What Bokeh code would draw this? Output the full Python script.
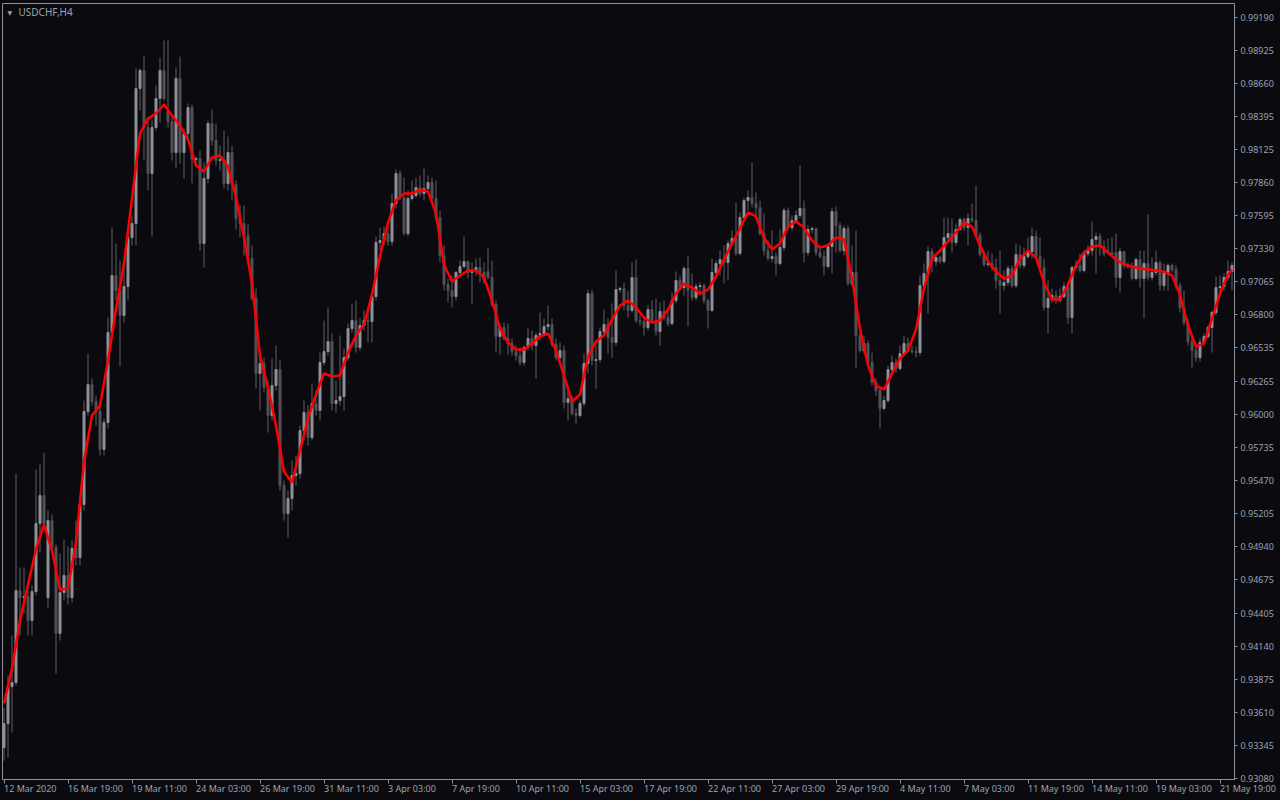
from bokeh.plotting import figure
from bokeh.models import (Range1d, FixedTicker, PrintfTickFormatter, Label,
                          ColumnDataSource, GlobalInlineStyleSheet)
from bokeh.embed import file_html
from bokeh.resources import INLINE

symbol = "USDCHF,H4"

open_ = [0.93326, 0.93518, 0.93815, 0.93848, 0.94586, 0.94530, 0.94538, 0.94345, 0.94578, 0.95124,
         0.95349, 0.94530, 0.95148, 0.94932, 0.94241, 0.94570, 0.94707, 0.94530, 0.94924, 0.94851,
         0.95277, 0.96024, 0.96240, 0.96104, 0.96024, 0.95719, 0.95935, 0.96658, 0.97116, 0.96995,
         0.96795, 0.97027, 0.97421, 0.97533, 0.98617, 0.98762, 0.98304, 0.97935, 0.98304, 0.98537,
         0.98762, 0.98441, 0.98352, 0.98103, 0.98698, 0.98103, 0.98256, 0.98465, 0.98047, 0.98055,
         0.97373, 0.97895, 0.98336, 0.98200, 0.98039, 0.98047, 0.97855, 0.98103, 0.97846, 0.97573,
         0.97533, 0.97437, 0.97252, 0.96931, 0.96329, 0.96409, 0.96216, 0.95992, 0.96232, 0.96361,
         0.95429, 0.95205, 0.95325, 0.95510, 0.95526, 0.95871, 0.96016, 0.95815, 0.96088, 0.96032,
         0.96417, 0.96505, 0.96586, 0.96088, 0.96112, 0.96144, 0.96457, 0.96690, 0.96754, 0.96538,
         0.96714, 0.96754, 0.96746, 0.96947, 0.97381, 0.97397, 0.97453, 0.97389, 0.97694, 0.97935,
         0.97742, 0.97453, 0.97734, 0.97758, 0.97822, 0.97774, 0.97814, 0.97863, 0.97734, 0.97581,
         0.97276, 0.97043, 0.96995, 0.96947, 0.97140, 0.97188, 0.97228, 0.97140, 0.97156, 0.97180,
         0.97140, 0.97148, 0.97100, 0.96883, 0.96626, 0.96698, 0.96610, 0.96570, 0.96505, 0.96473,
         0.96417, 0.96538, 0.96610, 0.96554, 0.96634, 0.96650, 0.96706, 0.96722, 0.96562, 0.96457,
         0.96513, 0.96096, 0.96128, 0.96008, 0.95992, 0.96088, 0.96409, 0.96971, 0.96433, 0.96441,
         0.96666, 0.96722, 0.96618, 0.96578, 0.97003, 0.97011, 0.96875, 0.96835, 0.97100, 0.96754,
         0.96746, 0.96698, 0.96843, 0.96754, 0.96666, 0.96827, 0.96778, 0.96730, 0.96915, 0.97076,
         0.97019, 0.97172, 0.96995, 0.96939, 0.97027, 0.97035, 0.96915, 0.96835, 0.97140, 0.97212,
         0.97244, 0.97220, 0.97373, 0.97413, 0.97292, 0.97581, 0.97718, 0.97742, 0.97694, 0.97662,
         0.97453, 0.97316, 0.97252, 0.97268, 0.97212, 0.97341, 0.97638, 0.97501, 0.97557, 0.97598,
         0.97654, 0.97300, 0.97485, 0.97493, 0.97300, 0.97268, 0.97188, 0.97349, 0.97630, 0.97517,
         0.97316, 0.97493, 0.97052, 0.97140, 0.96634, 0.96513, 0.96570, 0.96417, 0.96257, 0.96192,
         0.96048, 0.96112, 0.96361, 0.96417, 0.96369, 0.96489, 0.96570, 0.96513, 0.96505, 0.96497,
         0.97035, 0.97132, 0.97308, 0.97228, 0.97260, 0.97228, 0.97421, 0.97453, 0.97381, 0.97485,
         0.97565, 0.97501, 0.97573, 0.97557, 0.97437, 0.97284, 0.97204, 0.97212, 0.97180, 0.97076,
         0.97035, 0.97060, 0.97172, 0.97035, 0.97284, 0.97196, 0.97268, 0.97308, 0.97429, 0.97268,
         0.97180, 0.96859, 0.96931, 0.96955, 0.96915, 0.96947, 0.97027, 0.96778, 0.97180, 0.97196,
         0.97156, 0.97292, 0.97316, 0.97405, 0.97429, 0.97349, 0.97316, 0.97300, 0.97300, 0.97100,
         0.97308, 0.97196, 0.97180, 0.97092, 0.97244, 0.97092, 0.97212, 0.97100, 0.97140, 0.97220,
         0.97035, 0.97140, 0.97196, 0.97164, 0.97035, 0.96859, 0.96738, 0.96586, 0.96513, 0.96457,
         0.96578, 0.96626, 0.96698, 0.96819, 0.97019, 0.97027, 0.97100, 0.97148]

high = [0.93647, 0.93904, 0.94225, 0.95526, 0.94771, 0.94771, 0.94626, 0.94626, 0.95558, 0.95598,
        0.95694, 0.95229, 0.95197, 0.94956, 0.94883, 0.94996, 0.94940, 0.94988, 0.95148, 0.95349,
        0.96112, 0.96489, 0.96289, 0.96152, 0.96072, 0.95967, 0.96778, 0.97501, 0.97373, 0.97236,
        0.97180, 0.97461, 0.97598, 0.98778, 0.98778, 0.98882, 0.98360, 0.98360, 0.98641, 0.98866,
        0.99003, 0.99003, 0.98401, 0.98786, 0.98874, 0.98296, 0.98497, 0.98489, 0.98071, 0.98119,
        0.98023, 0.98360, 0.98449, 0.98336, 0.98160, 0.98280, 0.98232, 0.98160, 0.97879, 0.97678,
        0.97678, 0.97525, 0.97357, 0.97011, 0.96513, 0.96457, 0.96273, 0.96449, 0.96554, 0.96433,
        0.95470, 0.95389, 0.95630, 0.95670, 0.95911, 0.96112, 0.96072, 0.96249, 0.96192, 0.96497,
        0.96754, 0.96859, 0.96650, 0.96273, 0.96634, 0.96530, 0.96730, 0.96891, 0.96915, 0.96770,
        0.96835, 0.96859, 0.96971, 0.97429, 0.97501, 0.97509, 0.97517, 0.97774, 0.97967, 0.97959,
        0.97903, 0.97798, 0.97879, 0.97903, 0.97919, 0.97975, 0.97919, 0.97903, 0.97879, 0.97638,
        0.97357, 0.97092, 0.97116, 0.97150, 0.97236, 0.97429, 0.97236, 0.97220, 0.97252, 0.97260,
        0.97220, 0.97333, 0.97236, 0.96915, 0.96730, 0.96738, 0.96730, 0.96610, 0.96554, 0.96538,
        0.96554, 0.96690, 0.96674, 0.96658, 0.96819, 0.96770, 0.96875, 0.96770, 0.96610, 0.96578,
        0.96554, 0.96232, 0.96152, 0.96048, 0.96112, 0.96489, 0.97003, 0.97003, 0.96554, 0.96698,
        0.96843, 0.96770, 0.96891, 0.97156, 0.97027, 0.97060, 0.96995, 0.97220, 0.97244, 0.96795,
        0.96770, 0.96875, 0.96915, 0.96931, 0.96899, 0.96915, 0.96835, 0.96979, 0.97148, 0.97116,
        0.97188, 0.97276, 0.97132, 0.97052, 0.97060, 0.97052, 0.96931, 0.97252, 0.97236, 0.97316,
        0.97357, 0.97397, 0.97477, 0.97702, 0.97622, 0.97742, 0.97798, 0.98023, 0.97782, 0.97718,
        0.97614, 0.97397, 0.97477, 0.97300, 0.97485, 0.97662, 0.97662, 0.97598, 0.97638, 0.97999,
        0.97718, 0.97517, 0.97509, 0.97501, 0.97333, 0.97316, 0.97373, 0.97662, 0.97670, 0.97541,
        0.97517, 0.97517, 0.97357, 0.97477, 0.96674, 0.96634, 0.96594, 0.96497, 0.96289, 0.96224,
        0.96152, 0.96393, 0.96473, 0.96449, 0.96554, 0.96634, 0.96618, 0.96554, 0.96546, 0.97116,
        0.97212, 0.97349, 0.97333, 0.97292, 0.97276, 0.97581, 0.97581, 0.97573, 0.97533, 0.97581,
        0.97581, 0.97614, 0.97694, 0.97838, 0.97461, 0.97316, 0.97316, 0.97292, 0.97252, 0.97316,
        0.97156, 0.97196, 0.97196, 0.97373, 0.97357, 0.97341, 0.97421, 0.97501, 0.97477, 0.97421,
        0.97252, 0.97076, 0.97011, 0.96995, 0.97011, 0.97060, 0.97060, 0.97196, 0.97236, 0.97292,
        0.97316, 0.97357, 0.97549, 0.97461, 0.97453, 0.97397, 0.97413, 0.97421, 0.97453, 0.97341,
        0.97316, 0.97220, 0.97220, 0.97260, 0.97316, 0.97316, 0.97606, 0.97260, 0.97316, 0.97236,
        0.97212, 0.97212, 0.97212, 0.97196, 0.97060, 0.96995, 0.96770, 0.96634, 0.96554, 0.96610,
        0.96650, 0.96714, 0.96835, 0.97108, 0.97116, 0.97132, 0.97236, 0.97220]

low = [0.93221, 0.93245, 0.93446, 0.93823, 0.94225, 0.94402, 0.94225, 0.94225, 0.94546, 0.94891,
       0.95068, 0.94450, 0.94907, 0.93920, 0.94185, 0.94506, 0.94474, 0.94490, 0.94787, 0.94787,
       0.95229, 0.95992, 0.96072, 0.95911, 0.95670, 0.95670, 0.95887, 0.96634, 0.96915, 0.96385,
       0.96738, 0.96915, 0.97357, 0.97357, 0.98441, 0.98039, 0.97798, 0.97429, 0.98280, 0.98344,
       0.98521, 0.98304, 0.98039, 0.97975, 0.98015, 0.97895, 0.98200, 0.97855, 0.97999, 0.97316,
       0.97180, 0.97855, 0.98160, 0.97999, 0.97959, 0.97814, 0.97798, 0.97718, 0.97485, 0.97421,
       0.97276, 0.97220, 0.96915, 0.96208, 0.96032, 0.96176, 0.95855, 0.95951, 0.96192, 0.95389,
       0.95148, 0.95012, 0.95229, 0.95429, 0.95486, 0.95791, 0.95751, 0.95791, 0.95992, 0.95951,
       0.96393, 0.96473, 0.96032, 0.96016, 0.96072, 0.96032, 0.96433, 0.96658, 0.96497, 0.96513,
       0.96674, 0.96578, 0.96578, 0.96915, 0.97316, 0.97357, 0.97357, 0.97357, 0.97654, 0.97718,
       0.97437, 0.97429, 0.97718, 0.97742, 0.97750, 0.97718, 0.97782, 0.97702, 0.97557, 0.97220,
       0.96995, 0.96899, 0.96859, 0.96915, 0.97116, 0.97172, 0.97092, 0.96891, 0.97116, 0.97060,
       0.97052, 0.97084, 0.96867, 0.96497, 0.96481, 0.96594, 0.96481, 0.96473, 0.96433, 0.96393,
       0.96393, 0.96513, 0.96513, 0.96289, 0.96594, 0.96626, 0.96674, 0.96546, 0.96433, 0.96433,
       0.96048, 0.95951, 0.95992, 0.95927, 0.95975, 0.96064, 0.96329, 0.96393, 0.96208, 0.96417,
       0.96634, 0.96489, 0.96457, 0.96554, 0.96979, 0.96835, 0.96778, 0.96819, 0.96738, 0.96714,
       0.96634, 0.96674, 0.96738, 0.96634, 0.96554, 0.96754, 0.96706, 0.96714, 0.96891, 0.96995,
       0.96955, 0.96706, 0.96915, 0.96915, 0.96955, 0.96891, 0.96690, 0.96819, 0.97092, 0.97116,
       0.97052, 0.97076, 0.97349, 0.97276, 0.97276, 0.97557, 0.97638, 0.97662, 0.97598, 0.97437,
       0.97276, 0.97236, 0.97220, 0.97116, 0.97196, 0.97316, 0.97477, 0.97477, 0.97541, 0.97573,
       0.97220, 0.97276, 0.97453, 0.97276, 0.97252, 0.97116, 0.97172, 0.97132, 0.97300, 0.97300,
       0.97276, 0.97035, 0.97027, 0.96377, 0.96497, 0.96489, 0.96393, 0.96232, 0.96152, 0.95887,
       0.96032, 0.96096, 0.96337, 0.96337, 0.96353, 0.96473, 0.96497, 0.96489, 0.96457, 0.96473,
       0.97019, 0.96811, 0.97140, 0.97196, 0.97212, 0.97212, 0.97381, 0.97300, 0.97357, 0.97477,
       0.97477, 0.97357, 0.97541, 0.97413, 0.97268, 0.97188, 0.97188, 0.97156, 0.97011, 0.96811,
       0.96995, 0.97035, 0.97019, 0.97011, 0.97172, 0.97172, 0.97252, 0.97252, 0.97252, 0.97156,
       0.96835, 0.96650, 0.96899, 0.96891, 0.96899, 0.96931, 0.96730, 0.96650, 0.97156, 0.97140,
       0.97140, 0.97268, 0.97276, 0.97132, 0.97276, 0.97268, 0.97284, 0.97268, 0.97019, 0.96979,
       0.97172, 0.97172, 0.97076, 0.97076, 0.97019, 0.96770, 0.97076, 0.97076, 0.97116, 0.96995,
       0.96995, 0.96995, 0.97140, 0.97011, 0.96819, 0.96714, 0.96554, 0.96377, 0.96425, 0.96425,
       0.96554, 0.96610, 0.96497, 0.96795, 0.96955, 0.96995, 0.97076, 0.96995]

close = [0.93518, 0.93815, 0.93848, 0.94586, 0.94530, 0.94538, 0.94345, 0.94578, 0.95124, 0.95349,
         0.95124, 0.95148, 0.94932, 0.94241, 0.94570, 0.94707, 0.94530, 0.94924, 0.94851, 0.95277,
         0.96024, 0.96240, 0.96104, 0.96024, 0.95719, 0.95935, 0.96658, 0.97116, 0.96995, 0.96795,
         0.97027, 0.97421, 0.97533, 0.98617, 0.98762, 0.98304, 0.97935, 0.98304, 0.98537, 0.98762,
         0.98537, 0.98352, 0.98103, 0.98698, 0.98103, 0.98256, 0.98465, 0.98047, 0.98055, 0.97373,
         0.97895, 0.98336, 0.98200, 0.98039, 0.98047, 0.97855, 0.98103, 0.97846, 0.97573, 0.97533,
         0.97437, 0.97276, 0.96931, 0.96329, 0.96409, 0.96216, 0.95992, 0.96232, 0.96361, 0.95429,
         0.95205, 0.95325, 0.95510, 0.95526, 0.95871, 0.96016, 0.95815, 0.96088, 0.96032, 0.96417,
         0.96505, 0.96586, 0.96088, 0.96112, 0.96144, 0.96457, 0.96690, 0.96754, 0.96538, 0.96714,
         0.96754, 0.96746, 0.96947, 0.97381, 0.97397, 0.97453, 0.97389, 0.97694, 0.97935, 0.97742,
         0.97453, 0.97734, 0.97758, 0.97822, 0.97774, 0.97814, 0.97863, 0.97734, 0.97581, 0.97276,
         0.97043, 0.96995, 0.96947, 0.97140, 0.97188, 0.97228, 0.97140, 0.97156, 0.97180, 0.97140,
         0.97076, 0.97100, 0.96883, 0.96626, 0.96698, 0.96610, 0.96570, 0.96505, 0.96473, 0.96417,
         0.96538, 0.96610, 0.96554, 0.96634, 0.96650, 0.96706, 0.96722, 0.96562, 0.96457, 0.96513,
         0.96096, 0.96128, 0.96008, 0.95992, 0.96088, 0.96409, 0.96971, 0.96433, 0.96441, 0.96666,
         0.96722, 0.96618, 0.96578, 0.97003, 0.97011, 0.96875, 0.96835, 0.97100, 0.96754, 0.96746,
         0.96698, 0.96843, 0.96754, 0.96666, 0.96827, 0.96778, 0.96730, 0.96915, 0.97076, 0.97019,
         0.97172, 0.96995, 0.96939, 0.97027, 0.97035, 0.96915, 0.96835, 0.97140, 0.97212, 0.97244,
         0.97220, 0.97373, 0.97413, 0.97292, 0.97581, 0.97718, 0.97742, 0.97694, 0.97662, 0.97453,
         0.97316, 0.97252, 0.97268, 0.97212, 0.97341, 0.97638, 0.97501, 0.97557, 0.97598, 0.97654,
         0.97300, 0.97485, 0.97493, 0.97300, 0.97268, 0.97188, 0.97349, 0.97630, 0.97517, 0.97316,
         0.97493, 0.97052, 0.97140, 0.96634, 0.96513, 0.96570, 0.96417, 0.96257, 0.96192, 0.96048,
         0.96112, 0.96361, 0.96417, 0.96369, 0.96489, 0.96570, 0.96513, 0.96505, 0.96497, 0.97035,
         0.97132, 0.97308, 0.97228, 0.97260, 0.97228, 0.97421, 0.97453, 0.97381, 0.97485, 0.97565,
         0.97501, 0.97573, 0.97557, 0.97437, 0.97284, 0.97204, 0.97212, 0.97180, 0.97076, 0.97035,
         0.97060, 0.97172, 0.97035, 0.97284, 0.97196, 0.97268, 0.97308, 0.97429, 0.97268, 0.97180,
         0.96859, 0.96931, 0.96955, 0.96915, 0.96947, 0.97027, 0.96778, 0.97180, 0.97196, 0.97156,
         0.97292, 0.97316, 0.97405, 0.97429, 0.97349, 0.97292, 0.97300, 0.97284, 0.97100, 0.97308,
         0.97196, 0.97180, 0.97092, 0.97244, 0.97092, 0.97212, 0.97100, 0.97140, 0.97220, 0.97035,
         0.97140, 0.97196, 0.97164, 0.97035, 0.96859, 0.96738, 0.96586, 0.96513, 0.96457, 0.96578,
         0.96626, 0.96698, 0.96819, 0.97019, 0.97027, 0.97100, 0.97148, 0.97196]

# smoothed average (red line), read every second bar plus the last bar
ma_values = [0.93679, 0.93960, 0.94345, 0.94634, 0.94916, 0.95116, 0.94907, 0.94594, 0.94602, 0.94972,
             0.95622, 0.95992, 0.96072, 0.96433, 0.96843, 0.97212, 0.97734, 0.98256, 0.98376, 0.98417,
             0.98489, 0.98401, 0.98320, 0.98208, 0.97999, 0.97951, 0.98063, 0.98079, 0.97991, 0.97742,
             0.97421, 0.97052, 0.96473, 0.96216, 0.95911, 0.95542, 0.95454, 0.95710, 0.95967, 0.96160,
             0.96329, 0.96305, 0.96313, 0.96497, 0.96634, 0.96722, 0.96963, 0.97268, 0.97541, 0.97718,
             0.97774, 0.97774, 0.97806, 0.97790, 0.97614, 0.97204, 0.97068, 0.97116, 0.97156, 0.97156,
             0.97100, 0.96915, 0.96690, 0.96578, 0.96522, 0.96522, 0.96570, 0.96626, 0.96650, 0.96513,
             0.96313, 0.96104, 0.96160, 0.96465, 0.96586, 0.96634, 0.96762, 0.96875, 0.96915, 0.96859,
             0.96778, 0.96738, 0.96754, 0.96843, 0.96971, 0.97052, 0.97019, 0.96971, 0.97003, 0.97108,
             0.97244, 0.97373, 0.97493, 0.97622, 0.97590, 0.97421, 0.97325, 0.97373, 0.97509, 0.97549,
             0.97501, 0.97397, 0.97341, 0.97357, 0.97421, 0.97405, 0.97092, 0.96690, 0.96393, 0.96232,
             0.96200, 0.96329, 0.96449, 0.96513, 0.96682, 0.97011, 0.97252, 0.97316, 0.97389, 0.97461,
             0.97541, 0.97509, 0.97357, 0.97228, 0.97148, 0.97092, 0.97116, 0.97252, 0.97316, 0.97260,
             0.97060, 0.96923, 0.96923, 0.97043, 0.97196, 0.97300, 0.97349, 0.97357, 0.97300, 0.97244,
             0.97204, 0.97188, 0.97172, 0.97164, 0.97156, 0.97148, 0.97116, 0.96963, 0.96714, 0.96546,
             0.96570, 0.96770, 0.96971, 0.97124, 0.97164]

date_labels = ["12 Mar 2020", "16 Mar 19:00", "19 Mar 11:00", "24 Mar 03:00", "26 Mar 19:00",
               "31 Mar 11:00", "3 Apr 03:00", "7 Apr 19:00", "10 Apr 11:00", "15 Apr 03:00",
               "17 Apr 19:00", "22 Apr 11:00", "27 Apr 03:00", "29 Apr 19:00", "4 May 11:00",
               "7 May 03:00", "11 May 19:00", "14 May 11:00", "19 May 03:00", "21 May 19:00"]
bars_per_label = 16

price_ticks = [0.93080, 0.93345, 0.93610, 0.93875, 0.94140, 0.94405, 0.94675, 0.94940,
               0.95205, 0.95470, 0.95735, 0.96000, 0.96265, 0.96535, 0.96800, 0.97065,
               0.97330, 0.97595, 0.97860, 0.98125, 0.98395, 0.98660, 0.98925, 0.99190]

# ---------------------------------------------------------------- styling
BG = "#0a0a0f"
FRAME = "#8e8e96"
TEXT = "#9aa3b4"
BULL = "#8f8f9c"
BEAR = "#505056"
WICK = "#5e5e66"
MA_COLOR = "#ff0000"
FONT = "Noto Sans"

n = len(close)
bars = list(range(n))
ma_bars = list(range(0, n, 2)) + [n - 1]
label_bars = [k * bars_per_label for k in range(len(date_labels))]
x0, x1 = -0.375, n - 0.375

src = ColumnDataSource(dict(
    bar=bars, open=open_, high=high, low=low, close=close,
    top=[max(o, c) for o, c in zip(open_, close)],
    bottom=[min(o, c) for o, c in zip(open_, close)],
    color=[BULL if c >= o else BEAR for o, c in zip(open_, close)],
))

# fixed plot frame (1232 x 776) at (2, 3); the page clips anything past 1280 x 800
p = figure(frame_width=1232, frame_height=776, output_backend="svg", toolbar_location=None,
           x_range=Range1d(x0, x1), y_range=Range1d(0.93069, 0.99300),
           y_axis_location="right",
           min_border_left=2, min_border_top=3, min_border_right=46, min_border_bottom=21,
           background_fill_color=BG, border_fill_color=BG,
           outline_line_color=FRAME, outline_line_width=1)
p.stylesheets = [GlobalInlineStyleSheet(
    css="html, body { margin: 0 !important; padding: 0; background: #0a0a0f; overflow: hidden; }")]
p.grid.visible = False

# price axis (right)
ya = p.yaxis[0]
ya.ticker = FixedTicker(ticks=price_ticks)
ya.formatter = PrintfTickFormatter(format="%.5f")
ya.axis_line_color = FRAME
ya.major_tick_line_color = FRAME
ya.major_tick_out = 3
ya.major_tick_in = 0
ya.minor_tick_line_color = None
ya.major_label_standoff = 3
ya.major_label_text_font = FONT
ya.major_label_text_font_size = "9px"
ya.major_label_text_color = TEXT

# time axis: labels start at their tick (a vanishing negative angle anchors them left)
xa = p.xaxis[0]
xa.ticker = FixedTicker(ticks=label_bars)
xa.major_label_overrides = {b: t for b, t in zip(label_bars, date_labels)}
xa.major_label_orientation = -0.0001
xa.major_label_standoff = 5
xa.major_label_text_font = FONT
xa.major_label_text_font_size = "9px"
xa.major_label_text_color = TEXT
xa.axis_line_color = FRAME
xa.major_tick_line_color = FRAME
xa.major_tick_out = 4
xa.major_tick_in = 0
xa.minor_tick_line_color = None

# candles
p.segment(x0="bar", y0="high", x1="bar", y1="low", source=src,
          line_color=WICK, line_width=1)
p.vbar(x="bar", width=0.5, top="top", bottom="bottom", source=src,
       fill_color="color", line_color="color", line_width=1)

# smoothed average
p.line(ma_bars, ma_values, line_color=MA_COLOR, line_width=2.5)

# symbol caption
p.add_layout(Label(x=5, y=767, x_units="screen", y_units="screen", text="\u25bc",
                   text_align="left", text_baseline="middle",
                   text_font="DejaVu Sans", text_font_size="6px", text_color=TEXT))
p.add_layout(Label(x=16, y=768, x_units="screen", y_units="screen", text=symbol,
                   text_align="left", text_baseline="middle",
                   text_font=FONT, text_font_size="10px", text_color=TEXT))

open("out.html", "w").write(file_html(p, INLINE))
